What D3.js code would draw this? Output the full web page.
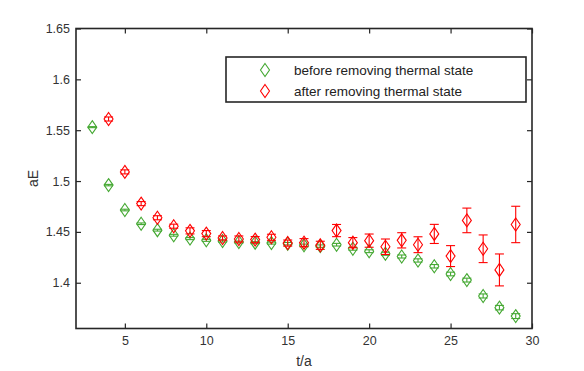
<!DOCTYPE html>
<html>
<head>
<meta charset="utf-8">
<script src="https://cdn.jsdelivr.net/npm/d3@7"></script>
<style>
  body { margin: 0; background: #fff; }
  text { font-family: "Liberation Sans", Arial, sans-serif; }
</style>
</head>
<body>
<script>
// data
var tBefore = [3, 4, 5, 6, 7, 8, 9, 10, 11, 12, 13, 14, 15, 16, 17, 18, 19, 20, 21, 22, 23, 24, 25, 26, 27, 28, 29];
var eBefore = [1.553, 1.496, 1.4715, 1.458, 1.4517, 1.4467, 1.4434, 1.4417, 1.441, 1.440, 1.4394, 1.439, 1.4384,
               1.4368, 1.436, 1.4374, 1.4334, 1.431, 1.4285, 1.4258, 1.4219, 1.4162, 1.4086, 1.4026, 1.387, 1.3755, 1.3672];
var errBefore = [0.0005, 0.0007, 0.0008, 0.0008, 0.0009, 0.0009, 0.001, 0.001, 0.001, 0.001, 0.001, 0.001, 0.0012,
                 0.0012, 0.0012, 0.0013, 0.0014, 0.0014, 0.0015, 0.0015, 0.0016, 0.0017, 0.0018, 0.0019, 0.002, 0.0022, 0.0024];

var tAfter = [4, 5, 6, 7, 8, 9, 10, 11, 12, 13, 14, 15, 16, 17, 18, 19, 20, 21, 22, 23, 24, 25, 26, 27, 28, 29];
var eAfter = [1.561, 1.509, 1.4778, 1.4639, 1.4556, 1.451, 1.4483, 1.444, 1.443, 1.4424, 1.4447, 1.439, 1.4394,
              1.4368, 1.4513, 1.4394, 1.4414, 1.4354, 1.4417, 1.4374, 1.448, 1.4262, 1.4613, 1.4334, 1.4126, 1.4573];
var errAfter = [0.002, 0.002, 0.002, 0.002, 0.002, 0.003, 0.003, 0.002, 0.003, 0.003, 0.003, 0.003, 0.004,
                0.004, 0.006, 0.005, 0.0065, 0.0076, 0.0075, 0.0078, 0.0094, 0.0103, 0.0121, 0.0136, 0.0157, 0.0179];

var xTicks = [5, 10, 15, 20, 25, 30];
var yTicks = [1.4, 1.45, 1.5, 1.55, 1.6, 1.65];
var legendLabels = ["before removing thermal state", "after removing thermal state"];

var green = "#44a832";
var red = "#ff0000";
var axisColor = "#262626";

var width = 584, height = 371;
var plotLeft = 76, plotRight = 532, plotTop = 28.5, plotBottom = 328.5;

var svg = d3.select("body").append("svg")
    .attr("width", width)
    .attr("height", height);

var x = d3.scaleLinear().domain([2, 30]).range([plotLeft, plotRight]);
var y = d3.scaleLinear().domain([1.355, 1.65]).range([plotBottom, plotTop]);

//axes, ticks pointing inward
function styleAxis(g){
    g.select(".domain").remove();
    g.selectAll(".tick line").attr("stroke", axisColor).attr("stroke-width", 1.2);
    g.selectAll(".tick text").attr("fill", "#333").style("font-size", "12.5px");
}

svg.append("g")
    .attr("transform", "translate(0," + plotBottom + ")")
    .call(d3.axisBottom(x).tickValues(xTicks).tickSize(-5).tickPadding(8).tickFormat(d3.format("d")))
    .call(styleAxis);

svg.append("g")
    .attr("transform", "translate(0," + plotTop + ")")
    .call(d3.axisTop(x).tickValues(xTicks).tickSize(-5).tickFormat(""))
    .call(styleAxis);

svg.append("g")
    .attr("transform", "translate(" + plotLeft + ",0)")
    .call(d3.axisLeft(y).tickValues(yTicks).tickSize(-5).tickPadding(6).tickFormat(function(d){ return String(+d.toFixed(2)); }))
    .call(styleAxis);

svg.append("g")
    .attr("transform", "translate(" + plotRight + ",0)")
    .call(d3.axisRight(y).tickValues(yTicks).tickSize(-5).tickFormat(""))
    .call(styleAxis);

//box
svg.append("rect")
    .attr("x", plotLeft).attr("y", plotTop)
    .attr("width", plotRight - plotLeft).attr("height", plotBottom - plotTop)
    .attr("fill", "none")
    .attr("stroke", axisColor)
    .attr("stroke-width", 1.6);

//axis labels
svg.append("text")
    .attr("x", (plotLeft + plotRight) / 2).attr("y", 366)
    .attr("text-anchor", "middle")
    .attr("fill", "#333")
    .style("font-size", "14px")
    .text("t/a");

svg.append("text")
    .attr("transform", "translate(38," + ((plotTop + plotBottom) / 2) + ") rotate(-90)")
    .attr("text-anchor", "middle")
    .attr("fill", "#333")
    .style("font-size", "14px")
    .text("aE");

var hw = 4.5, hh = 6.5, capW = 4.5;
function diamond(cx, cy){
    return "M" + cx + "," + (cy - hh) + "L" + (cx + hw) + "," + cy + "L" + cx + "," + (cy + hh) + "L" + (cx - hw) + "," + cy + "Z";
}

function drawSeries(ts, es, errs, color){
    var pts = ts.map(function(t, i){ return {t: t, e: es[i], err: errs[i]}; });
    var g = svg.append("g");

    var bars = g.selectAll(".err").data(pts).enter().append("g")
        .attr("stroke", color).attr("stroke-width", 1.1).attr("fill", "none");
    bars.append("line")
        .attr("x1", function(d){ return x(d.t); }).attr("x2", function(d){ return x(d.t); })
        .attr("y1", function(d){ return y(d.e - d.err); }).attr("y2", function(d){ return y(d.e + d.err); });
    bars.append("line")
        .attr("x1", function(d){ return x(d.t) - capW; }).attr("x2", function(d){ return x(d.t) + capW; })
        .attr("y1", function(d){ return y(d.e - d.err); }).attr("y2", function(d){ return y(d.e - d.err); });
    bars.append("line")
        .attr("x1", function(d){ return x(d.t) - capW; }).attr("x2", function(d){ return x(d.t) + capW; })
        .attr("y1", function(d){ return y(d.e + d.err); }).attr("y2", function(d){ return y(d.e + d.err); });

    g.selectAll(".mark").data(pts).enter().append("path")
        .attr("d", function(d){ return diamond(x(d.t), y(d.e)); })
        .attr("fill", "none").attr("stroke", color).attr("stroke-width", 1.1);
}

drawSeries(tBefore, eBefore, errBefore, green);
drawSeries(tAfter, eAfter, errAfter, red);

//legend
var legend = svg.append("g").attr("transform", "translate(226,57)");
legend.append("rect")
    .attr("width", 300).attr("height", 45)
    .attr("fill", "#fff")
    .attr("stroke", axisColor).attr("stroke-width", 1.6);

[green, red].forEach(function(c, i){
    var cy = 13 + i * 21;
    legend.append("path")
        .attr("d", diamond(39, cy))
        .attr("fill", "none").attr("stroke", c).attr("stroke-width", 1.1);
    legend.append("text")
        .attr("x", 68).attr("y", cy + 5)
        .attr("fill", "#222")
        .style("font-size", "13.5px")
        .text(legendLabels[i]);
});
</script>
</body>
</html>
